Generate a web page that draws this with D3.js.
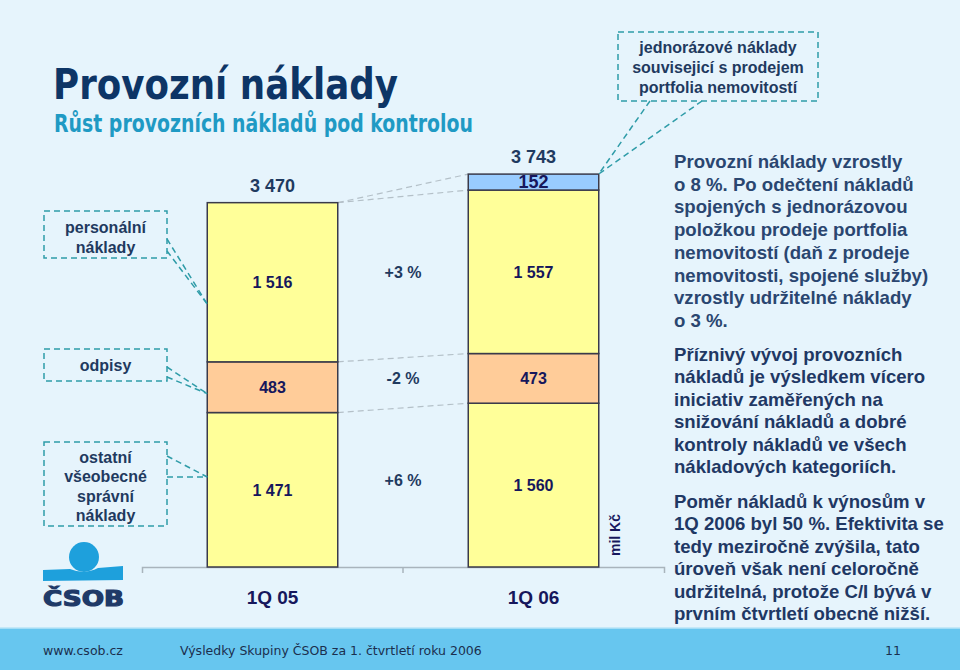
<!DOCTYPE html>
<html>
<head>
<meta charset="utf-8">
<script src="https://cdn.jsdelivr.net/npm/d3@7"></script>
<style>
  body { margin: 0; background: #e6f4fc; }
  svg { display: block; font-family: "Liberation Sans", Arial, sans-serif; }
</style>
</head>
<body>
<div id="chart-area"></div>
<script>
const categories = ["1Q 05", "1Q 06"]
const ostatni = [1471, 1560]
const odpisy = [483, 473]
const personalni = [1516, 1557]
const jednorazove = [0, 152]
const totals = [3470, 3743]
// change 1Q05 -> 1Q06 per segment, bottom to top
const changes = ["+6 %", "-2 %", "+3 %"]

const keys = ["ostatni", "odpisy", "personalni", "jednorazove"]
const colors = { ostatni: "#ffff99", odpisy: "#ffcc99", personalni: "#ffff99", jednorazove: "#99ccff" }

const rows = categories.map((c, i) => ({
  cat: c, ostatni: ostatni[i], odpisy: odpisy[i], personalni: personalni[i], jednorazove: jednorazove[i]
}))

const svg = d3.select("#chart-area").append("svg")
  .attr("width", 960)
  .attr("height", 670)

svg.append("rect").attr("width", 960).attr("height", 670).attr("fill", "#e6f4fc")

// title
svg.append("text")
  .attr("x", 53).attr("y", 99)
  .attr("font-family", "'DejaVu Sans', sans-serif")
  .attr("font-size", 42).attr("font-weight", "bold")
  .attr("fill", "#0d3566")
  .attr("textLength", 345).attr("lengthAdjust", "spacingAndGlyphs")
  .text("Provozní náklady")
svg.append("text")
  .attr("x", 54).attr("y", 132)
  .attr("font-family", "'DejaVu Sans', sans-serif")
  .attr("font-size", 24).attr("font-weight", "bold")
  .attr("fill", "#1f9ac4")
  .attr("textLength", 419).attr("lengthAdjust", "spacingAndGlyphs")
  .text("Růst provozních nákladů pod kontrolou")

// scales
const x = d3.scaleBand()
  .domain(categories)
  .range([142, 664])
  .paddingInner(0.5)
  .paddingOuter(0.25)

const y = d3.scaleLinear()
  .domain([0, 3743])
  .range([567, 174])

const stacked = d3.stack().keys(keys)(rows)

// grey dashed connectors between the bars
const conn = svg.append("g")
stacked.forEach(s => {
  conn.append("line")
    .attr("x1", x(categories[0]) + x.bandwidth())
    .attr("y1", y(s[0][1]))
    .attr("x2", x(categories[1]))
    .attr("y2", y(s[1][1]))
    .attr("stroke", "#b4c0c8")
    .attr("stroke-width", 1.2)
    .attr("stroke-dasharray", "6,4")
})

// axis
const xAxis = d3.axisBottom(x).tickSize(0).tickSizeOuter(6).tickPadding(0)
const axisG = svg.append("g")
  .attr("transform", "translate(0,567)")
  .call(xAxis)
axisG.select(".domain").attr("stroke", "#a9b4bc").attr("stroke-width", 1.5)
axisG.selectAll(".tick text")
  .attr("dy", null)
  .attr("y", 37)
  .attr("font-family", "'Liberation Sans', Arial, sans-serif")
  .attr("font-size", 19).attr("font-weight", "bold")
  .attr("fill", "#16175c")
axisG.append("line")
  .attr("x1", x(categories[1]) - x.step() * 0.25).attr("x2", x(categories[1]) - x.step() * 0.25)
  .attr("y1", 0).attr("y2", 6)
  .attr("stroke", "#a9b4bc").attr("stroke-width", 1.5)

// bars
const layers = svg.selectAll("g.layer")
  .data(stacked)
  .enter().append("g")
  .attr("class", "layer")
  .attr("fill", d => colors[d.key])

layers.selectAll("rect")
  .data(d => d.filter(p => p[1] > p[0]))
  .enter().append("rect")
  .attr("x", d => x(d.data.cat))
  .attr("y", d => y(d[1]))
  .attr("width", x.bandwidth())
  .attr("height", d => y(d[0]) - y(d[1]))
  .attr("stroke", "#3a3a4a")
  .attr("stroke-width", 1.5)

layers.selectAll("text")
  .data(d => d.filter(p => p[1] > p[0]))
  .enter().append("text")
  .attr("x", d => x(d.data.cat) + x.bandwidth() / 2)
  .attr("y", d => (y(d[0]) + y(d[1])) / 2 + 6)
  .attr("text-anchor", "middle")
  .attr("font-size", d => (d[1] - d[0]) < 200 ? 18 : 16)
  .attr("font-weight", "bold")
  .attr("fill", "#16175c")
  .text(d => d3.format(",")(d[1] - d[0]).replace(/,/g, " "))

// totals
svg.selectAll("text.total")
  .data(totals)
  .enter().append("text")
  .attr("class", "total")
  .attr("x", (d, i) => x(categories[i]) + x.bandwidth() / 2)
  .attr("y", d => y(d) - 11)
  .attr("text-anchor", "middle")
  .attr("font-size", 18).attr("font-weight", "bold")
  .attr("fill", "#1f3a5f")
  .text(d => d3.format(",")(d).replace(/,/g, " "))

// change labels between the bars
svg.selectAll("text.change")
  .data(changes)
  .enter().append("text")
  .attr("class", "change")
  .attr("x", x(categories[1]) - x.step() * 0.25)
  .attr("y", (d, i) => {
    const s = stacked[i]
    return ((y(s[0][0]) + y(s[0][1])) / 2 + (y(s[1][0]) + y(s[1][1])) / 2) / 2 + (i === 0 ? -1 : 1)
  })
  .attr("text-anchor", "middle")
  .attr("font-size", 16).attr("font-weight", "bold")
  .attr("fill", "#1f3a5f")
  .text(d => d)

// unit
svg.append("text")
  .attr("transform", "translate(620,535) rotate(-90)")
  .attr("text-anchor", "middle")
  .attr("font-size", 14).attr("font-weight", "bold")
  .attr("fill", "#16175c")
  .text("mil Kč")

// dashed callout boxes
const teal = "#2f9ca8"
function callout(box, lines, lineY, fontSize, pointers) {
  const cg = svg.append("g")
  cg.append("rect")
    .attr("x", box[0]).attr("y", box[1]).attr("width", box[2]).attr("height", box[3])
    .attr("fill", "none").attr("stroke", teal).attr("stroke-width", 1.5)
    .attr("stroke-dasharray", "6,4")
  pointers.forEach(p => {
    cg.append("line")
      .attr("x1", p[0]).attr("y1", p[1]).attr("x2", p[2]).attr("y2", p[3])
      .attr("stroke", teal).attr("stroke-width", 1.5).attr("stroke-dasharray", "6,4")
  })
  lines.forEach((t, i) => {
    cg.append("text")
      .attr("x", box[0] + box[2] / 2).attr("y", lineY[i])
      .attr("text-anchor", "middle")
      .attr("font-size", fontSize).attr("font-weight", "bold")
      .attr("fill", "#1f3a5f")
      .text(t)
  })
}
const barL = x(categories[0])
const barR2 = x(categories[1]) + x.bandwidth()
callout([44, 211, 123, 47], ["personální", "náklady"], [233, 253], 16,
  [[167, 239, barL, y(ostatni[0] + odpisy[0] + 550)], [167, 251, barL, y(ostatni[0] + odpisy[0] + 550)]])
callout([44, 349, 123, 32], ["odpisy"], [371], 16,
  [[167, 367, barL, y(ostatni[0] + 180)], [167, 377, barL, y(ostatni[0] + 180)]])
callout([44, 442, 123, 84], ["ostatní", "všeobecné", "správní", "náklady"], [463, 482, 502, 521], 16,
  [[167, 456, barL, 477], [167, 477, barL, 477]])
callout([618, 32, 200, 69], ["jednorázové náklady", "souvisejicí s prodejem", "portfolia nemovitostí"], [53, 73, 93], 16,
  [[650, 101, barR2, y(totals[1])], [702, 101, barR2, y(totals[1])]])

// right commentary
const para1 = ["Provozní náklady vzrostly", "o 8 %. Po odečtení nákladů", "spojených s jednorázovou",
  "položkou prodeje portfolia", "nemovitostí (daň z prodeje", "nemovitosti, spojené služby)",
  "vzrostly udržitelné náklady", "o 3 %."]
const para2 = ["Příznivý vývoj provozních", "nákladů je výsledkem vícero", "iniciativ zaměřených na",
  "snižování nákladů a dobré", "kontroly nákladů ve všech", "nákladových kategoriích."]
const para3 = ["Poměr nákladů k výnosům v", "1Q 2006 byl 50 %. Efektivita se", "tedy meziročně zvýšila, tato",
  "úroveň však není celoročně", "udržitelná, protože C/I bývá v", "prvním čtvrtletí obecně nižší."]
function para(lines, y0, lh, color) {
  svg.append("g").selectAll("text")
    .data(lines)
    .enter().append("text")
    .attr("x", 674)
    .attr("y", (d, i) => y0 + i * lh)
    .attr("font-size", 18.6).attr("font-weight", "bold")
    .attr("fill", color)
    .text(d => d)
}
para(para1, 168, 22.7, "#2a4670")
para(para2, 361, 22.4, "#1f3864")
para(para3, 508, 22.4, "#1f3864")

// logo
const logo = svg.append("g")
logo.append("circle").attr("cx", 84).attr("cy", 557).attr("r", 15).attr("fill", "#1ea0dc")
logo.append("path")
  .attr("d", "M43,570 L70,569 Q84,575 98,568 L123,566 L123,580 L43,581 Z")
  .attr("fill", "#1ea0dc")
logo.append("text")
  .attr("x", 43).attr("y", 606)
  .attr("font-family", "'DejaVu Sans', sans-serif")
  .attr("font-size", 21).attr("font-weight", "bold")
  .attr("fill", "#1f3a68")
  .attr("stroke", "#1f3a68").attr("stroke-width", 1.2)
  .attr("textLength", 81).attr("lengthAdjust", "spacingAndGlyphs")
  .text("ČSOB")

// footer
svg.append("rect").attr("x", 0).attr("y", 628).attr("width", 960).attr("height", 42).attr("fill", "#67c6ef")
svg.append("line").attr("x1", 0).attr("x2", 960).attr("y1", 628).attr("y2", 628).attr("stroke", "#b8e4f7").attr("stroke-width", 1.5)
const footer = [["www.csob.cz", 43], ["Výsledky Skupiny ČSOB za 1. čtvrtletí roku 2006", 180], ["11", 885]]
svg.selectAll("text.footer")
  .data(footer)
  .enter().append("text")
  .attr("class", "footer")
  .attr("x", d => d[1]).attr("y", 655)
  .attr("font-family", "'DejaVu Sans', sans-serif")
  .attr("font-size", 12.5)
  .attr("fill", "#1b2f4e")
  .text(d => d[0])
</script>
</body>
</html>
